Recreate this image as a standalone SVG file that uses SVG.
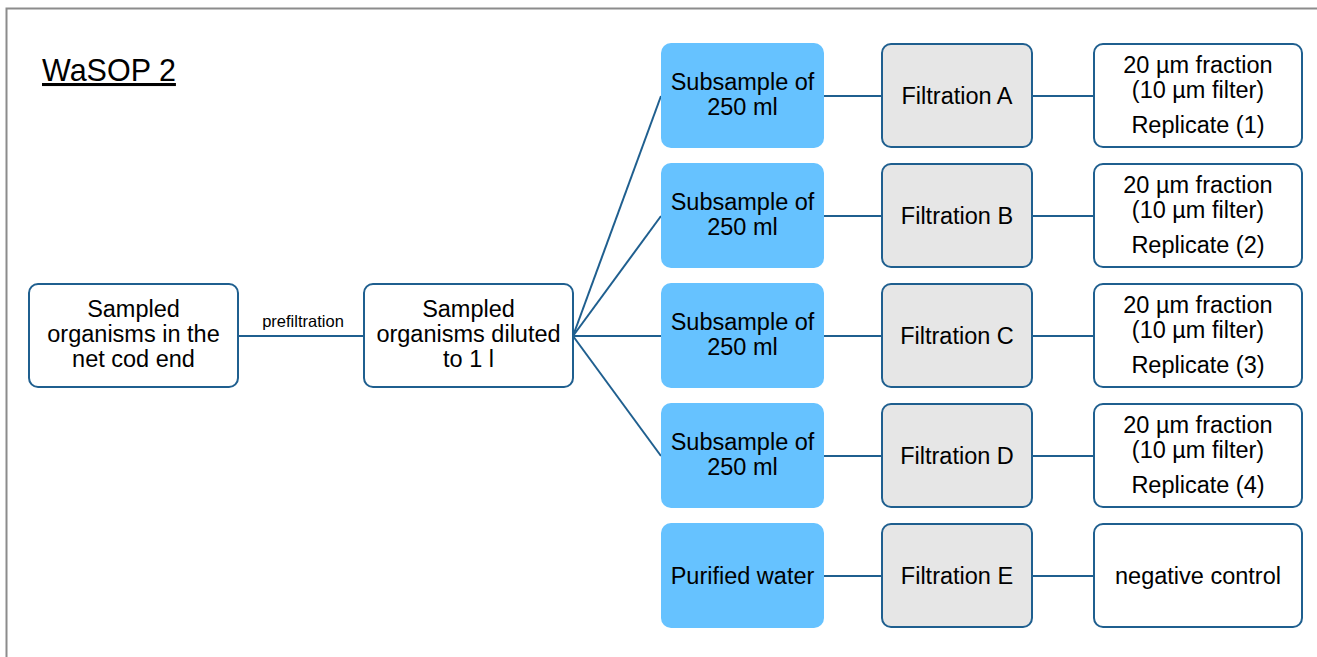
<svg xmlns="http://www.w3.org/2000/svg" width="1317" height="657" viewBox="0 0 1317 657">
<style>
text{font-family:"Liberation Sans",Arial,sans-serif;fill:#000;text-anchor:middle}
.t{font-size:23.5px}
.s{font-size:16.5px}
.w{fill:#fff;stroke:#1f5f8f;stroke-width:2}
.b{fill:#66c2ff;stroke:none}
.g{fill:#e6e6e6;stroke:#1f5f8f;stroke-width:2}
.c line{stroke:#1f5f8f;stroke-width:2}
</style>
<rect x="0" y="0" width="1317" height="657" fill="#fff"/>
<path d="M6.5 657 V8.5 H1317" fill="none" stroke="#8c8c8c" stroke-width="2"/>
<g id="title"><text x="42" y="81" style="font-size:30.5px;text-anchor:start;text-decoration:underline">WaSOP 2</text></g>
<g class="c" id="connectors">
<line x1="238" y1="336" x2="364" y2="336"/>
<line x1="573" y1="336" x2="661" y2="96"/>
<line x1="573" y1="336" x2="661" y2="216"/>
<line x1="573" y1="336" x2="661" y2="336"/>
<line x1="573" y1="336" x2="661" y2="456"/>
<line x1="824" y1="96" x2="882" y2="96"/><line x1="1032" y1="96" x2="1094" y2="96"/>
<line x1="824" y1="216" x2="882" y2="216"/><line x1="1032" y1="216" x2="1094" y2="216"/>
<line x1="824" y1="336" x2="882" y2="336"/><line x1="1032" y1="336" x2="1094" y2="336"/>
<line x1="824" y1="456" x2="882" y2="456"/><line x1="1032" y1="456" x2="1094" y2="456"/>
<line x1="824" y1="576" x2="882" y2="576"/><line x1="1032" y1="576" x2="1094" y2="576"/>
<text class="s" x="303" y="327" style="stroke:none">prefiltration</text>
</g>
<g id="n_codend"><rect class="w" x="29" y="284" width="209" height="103" rx="9"/><text class="t" x="133.5" y="317">Sampled</text><text class="t" x="133.5" y="342">organisms in the</text><text class="t" x="133.5" y="367">net cod end</text></g>
<g id="n_diluted"><rect class="w" x="364" y="284" width="209" height="103" rx="9"/><text class="t" x="468.5" y="317">Sampled</text><text class="t" x="468.5" y="342">organisms diluted</text><text class="t" x="468.5" y="367">to 1 l</text></g>
<g id="sub1"><rect class="b" x="661" y="43" width="163" height="105" rx="10"/><text class="t" x="742.5" y="90">Subsample of</text><text class="t" x="742.5" y="115">250 ml</text></g>
<g id="sub2"><rect class="b" x="661" y="163" width="163" height="105" rx="10"/><text class="t" x="742.5" y="210">Subsample of</text><text class="t" x="742.5" y="235">250 ml</text></g>
<g id="sub3"><rect class="b" x="661" y="283" width="163" height="105" rx="10"/><text class="t" x="742.5" y="330">Subsample of</text><text class="t" x="742.5" y="355">250 ml</text></g>
<g id="sub4"><rect class="b" x="661" y="403" width="163" height="105" rx="10"/><text class="t" x="742.5" y="450">Subsample of</text><text class="t" x="742.5" y="475">250 ml</text></g>
<g id="water"><rect class="b" x="661" y="523" width="163" height="105" rx="10"/><text class="t" x="742.5" y="584">Purified water</text></g>
<g id="filtA"><rect class="g" x="882" y="44" width="150" height="103" rx="9"/><text class="t" x="957" y="104">Filtration A</text></g>
<g id="filtB"><rect class="g" x="882" y="164" width="150" height="103" rx="9"/><text class="t" x="957" y="224">Filtration B</text></g>
<g id="filtC"><rect class="g" x="882" y="284" width="150" height="103" rx="9"/><text class="t" x="957" y="344">Filtration C</text></g>
<g id="filtD"><rect class="g" x="882" y="404" width="150" height="103" rx="9"/><text class="t" x="957" y="464">Filtration D</text></g>
<g id="filtE"><rect class="g" x="882" y="524" width="150" height="103" rx="9"/><text class="t" x="957" y="584">Filtration E</text></g>
<g id="rep1"><rect class="w" x="1094" y="44" width="208" height="103" rx="9"/><text class="t" x="1198" y="73">20 µm fraction</text><text class="t" x="1198" y="98">(10 µm filter)</text><text class="t" x="1198" y="133">Replicate (1)</text></g>
<g id="rep2"><rect class="w" x="1094" y="164" width="208" height="103" rx="9"/><text class="t" x="1198" y="193">20 µm fraction</text><text class="t" x="1198" y="218">(10 µm filter)</text><text class="t" x="1198" y="253">Replicate (2)</text></g>
<g id="rep3"><rect class="w" x="1094" y="284" width="208" height="103" rx="9"/><text class="t" x="1198" y="313">20 µm fraction</text><text class="t" x="1198" y="338">(10 µm filter)</text><text class="t" x="1198" y="373">Replicate (3)</text></g>
<g id="rep4"><rect class="w" x="1094" y="404" width="208" height="103" rx="9"/><text class="t" x="1198" y="433">20 µm fraction</text><text class="t" x="1198" y="458">(10 µm filter)</text><text class="t" x="1198" y="493">Replicate (4)</text></g>
<g id="neg"><rect class="w" x="1094" y="524" width="208" height="103" rx="9"/><text class="t" x="1198" y="584">negative control</text></g>
</svg>
